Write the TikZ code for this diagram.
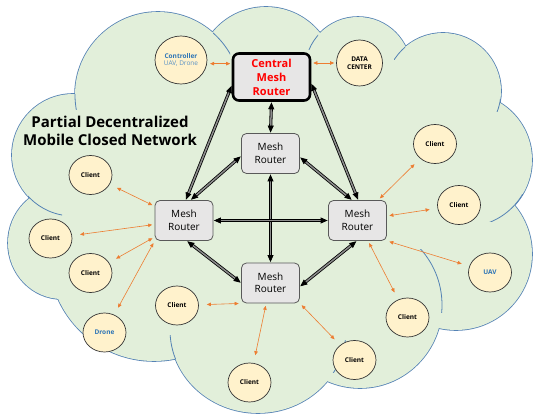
\documentclass[tikz,border=0pt]{standalone}
\usepackage{fontspec}
\setmainfont{Open Sans}
\usetikzlibrary{arrows.meta,shapes.geometric}

\definecolor{cloudgreen}{RGB}{226,239,218}
\definecolor{cloudblue}{RGB}{84,130,180}
\definecolor{clientfill}{RGB}{255,242,204}
\definecolor{routerfill}{RGB}{231,230,230}
\definecolor{linkorange}{RGB}{237,125,49}
\definecolor{textblue}{RGB}{46,117,182}

\tikzset{
  client/.style={ellipse, draw=black!80, line width=0.7pt, fill=clientfill, minimum width=43pt, minimum height=39pt, inner sep=0pt, align=center, font=\fontsize{6.5}{8}\selectfont\bfseries},
  router/.style={rectangle, rounded corners=5pt, draw=black!65, line width=0.8pt, fill=routerfill, minimum width=58pt, minimum height=40pt, inner sep=0pt, align=center, font=\fontsize{10}{12.5}\selectfont},
  central/.style={router, draw=black, line width=2.6pt, rounded corners=6pt, minimum width=77pt, minimum height=47pt, text=red, font=\fontsize{11}{14}\selectfont\bfseries},
  link/.style={linkorange, line width=0.6pt, {Triangle[length=4pt,width=3.5pt]}-{Triangle[length=4pt,width=3.5pt]}, shorten <=8pt, shorten >=2.5pt},
  trunk/.style={draw=black, line width=0.8pt, double=black!45, double distance=1.5pt, {Triangle[length=7pt,width=6pt]}-{Triangle[length=7pt,width=6pt]}, shorten <=0.5pt, shorten >=0.5pt},
  cloudline/.style={draw=cloudblue, line width=1.6pt},
  cloudarc/.style={draw=cloudblue, line width=0.8pt}
}

\begin{document}
\begin{tikzpicture}[x=1pt,y=-1pt] % cloud, routers and clients
  \useasboundingbox (0,0) rectangle (533,414);
  % cloud
  \foreach \cx/\cy/\rx/\ry in {158/95/83/83, 266/76/69/69, 358/70/53/53, 443/91/58/58, 465/160/67/67, 456/254/76/76, 360/305/82/83, 258/330/88/83, 154/256/105/105, 62/243/54/56, 73/155/61/61}
    \draw[cloudline] (\cx,\cy) ellipse [x radius=\rx pt, y radius=\ry pt];
  \foreach \cx/\cy/\rx/\ry in {158/95/83/83, 266/76/69/69, 358/70/53/53, 443/91/58/58, 465/160/67/67, 456/254/76/76, 360/305/82/83, 258/330/88/83, 154/256/105/105, 62/243/54/56, 73/155/61/61}
    \fill[cloudgreen] (\cx,\cy) ellipse [x radius=\rx pt, y radius=\ry pt];
  \fill[cloudgreen] (158,95) -- (266,76) -- (358,70) -- (443,91) -- (465,160) -- (456,254) -- (360,305) -- (258,330) -- (154,256) -- (62,243) -- (73,155) -- cycle;
  \foreach \cx/\cy/\rx/\ry/\xa/\ya/\xb/\yb in {158/95/83/83/70/95/82/110, 158/95/83/83/213/30/230/55, 358/70/53/53/308/30/318/50, 443/91/58/58/394/45/405/60, 443/91/58/58/490/100/505/112, 465/160/67/67/488/195/530/222, 360/305/82/83/400/250/450/312, 258/330/88/83/325/340/350/372, 258/330/88/83/165/335/180/358, 73/155/61/61/28/185/62/218}
  {
    \begin{scope}
      \clip (\xa,\ya) rectangle (\xb,\yb);
      \draw[cloudarc] (\cx,\cy) ellipse [x radius=\rx pt, y radius=\ry pt];
    \end{scope}
  }

  \node[font=\fontsize{15}{17.5}\selectfont\bfseries, align=center] (title) at (110,131) {Partial Decentralized\\Mobile Closed Network};

  % routers
  \node[central] (central) at (271.5,77) {Central\\Mesh\\Router};
  \node[router] (mrT) at (270.5,153.5) {Mesh\\Router};
  \node[router] (mrL) at (184,220.5) {Mesh\\Router};
  \node[router] (mrR) at (357.5,220.5) {Mesh\\Router};
  \node[router] (mrB) at (270.5,283) {Mesh\\Router};

  % clients
  \node[client, minimum width=52pt, minimum height=48pt, text=textblue] (ctrl) at (181,60) {Controller\\[-1pt]{\mdseries\color{textblue!80}UAV, Drone}};
  \node[client, minimum size=46pt] (dc) at (359.5,63) {DATA\\CENTER};
  \node[client] (cL1) at (90.5,175) {Client};
  \node[client] (cL2) at (50.5,238.5) {Client};
  \node[client] (cL3) at (90.5,273) {Client};
  \node[client, text=textblue] (drone) at (104.5,332.5) {Drone};
  \node[client] (cBm) at (177,305.5) {Client};
  \node[client] (cB) at (249.5,382.5) {Client};
  \node[client] (cBr) at (354.5,360) {Client};
  \node[client] (cR3) at (407.5,317.5) {Client};
  \node[client, text=textblue] (uav) at (490,272.5) {UAV};
  \node[client] (cR1) at (435,144) {Client};
  \node[client] (cR2) at (459,205) {Client};

  % links
  \draw[link, shorten <=3pt, shorten >=1.5pt] (ctrl.-8) -- (central.west |- ctrl.-8);
  \draw[link, shorten <=2pt, shorten >=2pt] (central.east |- dc.west) -- (dc.west);
  \draw[link] (cL1) -- (mrL);
  \draw[link] (cL2) -- (mrL);
  \draw[link] (cL3) -- (mrL);
  \draw[link] (drone) -- (mrL.south west);
  \draw[link] (cBm) -- (mrB.south west);
  \draw[link] (cB) -- (mrB);
  \draw[link] (cBr) -- (mrB.south east);
  \draw[link] (cR3) -- (mrR);
  \draw[link] (uav) -- (mrR.south east);
  \draw[link] (cR1) -- (mrR);
  \draw[link] (cR2) -- (mrR);

  \draw[trunk] (central.south) -- (mrT.north);
  \draw[trunk] (central.192) -- (mrL.85);
  \draw[trunk] (central.-9) -- (mrR.88);
  \draw[trunk] (mrT.185) -- (mrL.72);
  \draw[trunk] (mrT.-7) -- (mrR.105);
  \draw[trunk] (mrT.south) -- (mrB.north);
  \draw[trunk] (mrL.east) -- (mrR.west);
  \draw[trunk] (mrL.-82) -- (mrB.west);
  \draw[trunk] (mrR.-92) -- (mrB.-7);
\end{tikzpicture}
\end{document}
